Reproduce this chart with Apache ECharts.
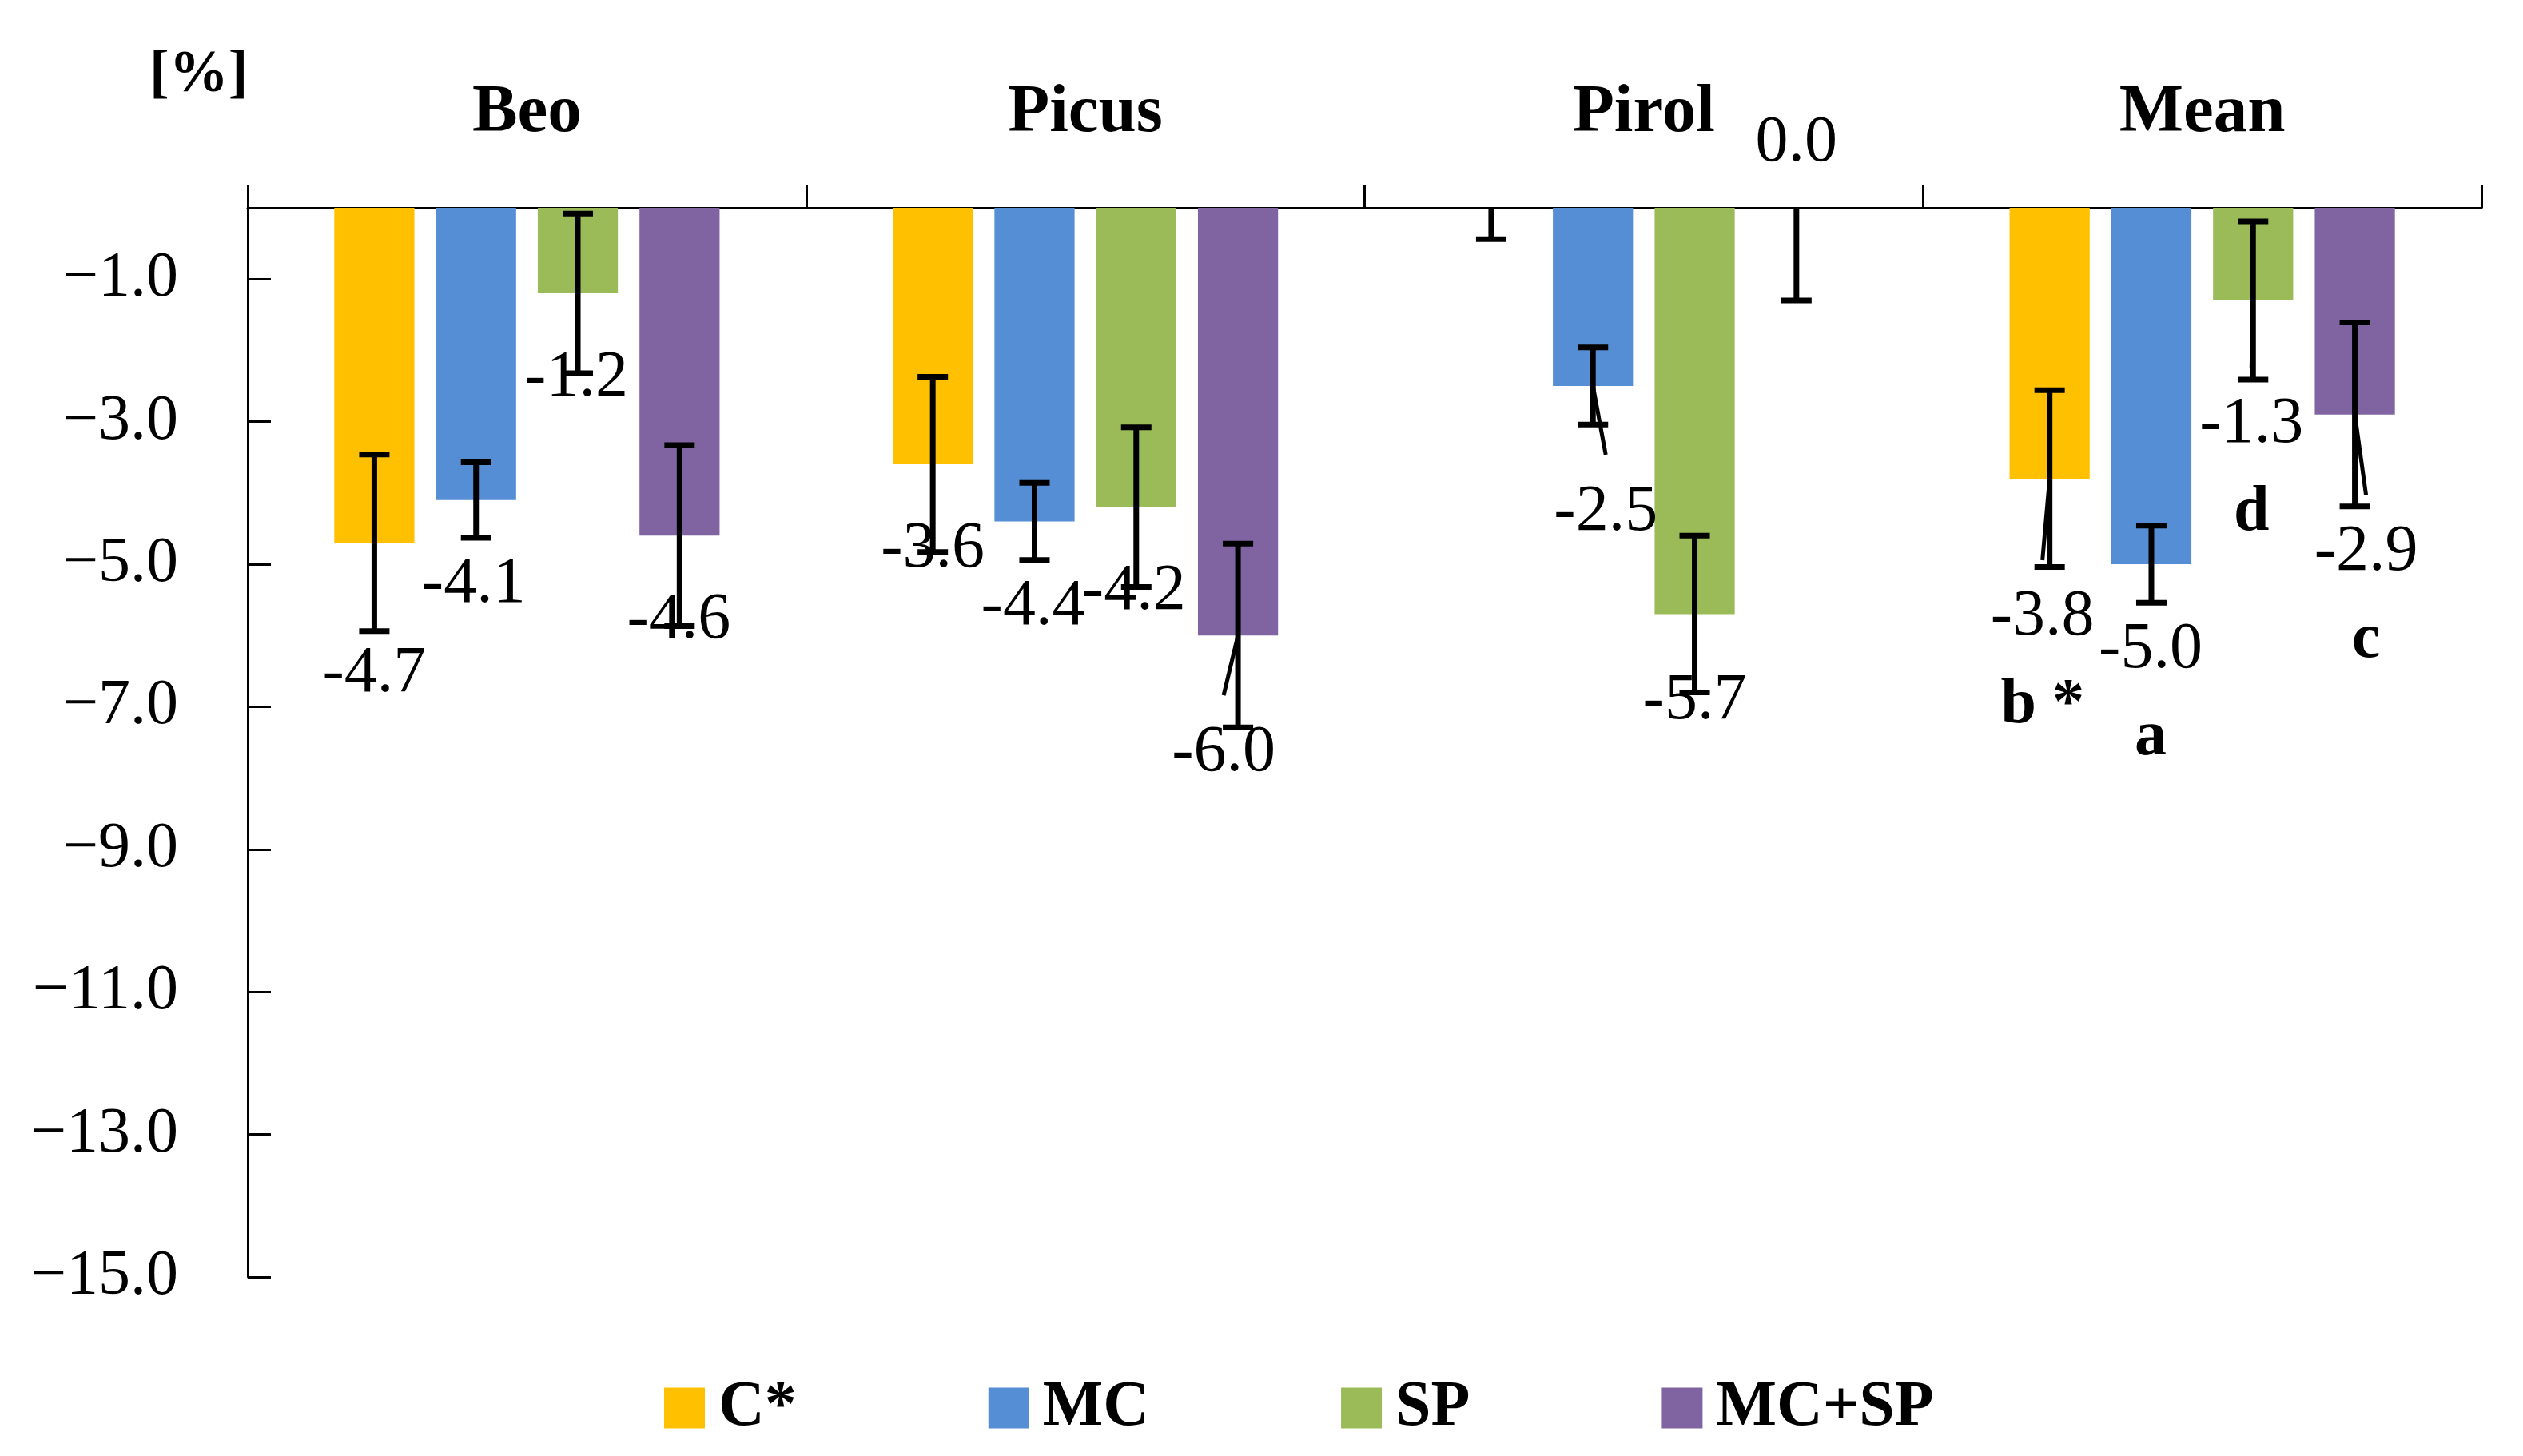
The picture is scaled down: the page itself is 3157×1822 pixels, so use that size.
<!DOCTYPE html>
<html><head><meta charset="utf-8">
<script src="https://cdn.jsdelivr.net/npm/echarts@6/dist/echarts.min.js"></script>
<style>html,body{margin:0;padding:0;background:#fff}#c{width:3157px;height:1822px}</style>
</head><body><div id="c"></div>
<script>
const categories = ['Beo', 'Picus', 'Pirol', 'Mean'];
const seriesNames = ['C*', 'MC', 'SP', 'MC+SP'];
const valuesC = [-4.7, -3.6, 0.0, -3.8];
const valuesMC = [-4.1, -4.4, -2.5, -5.0];
const valuesSP = [-1.2, -4.2, -5.7, -1.3];
const valuesMCSP = [-4.6, -6.0, 0.0, -2.9];
const errC = [1.24, 1.23, 0.44, 1.24];
const errMC = [0.53, 0.54, 0.54, 0.54];
const errSP = [1.12, 1.12, 1.10, 1.11];
const errMCSP = [1.27, 1.29, 1.30, 1.29];
const meanLetters = ['b *', 'a', 'd', 'c'];
const yTicks = [-15, -13, -11, -9, -7, -5, -3, -1];

// label nudges (px) relative to the default label place, per series per category
const nudgeDx = [[0, 0, 0, -9], [-3, -2, 16, -1], [-2, -3, 0, -2], [-1, -18, 0, 14]];
const nudgeDy = [[58, 0, 0, 68], [0, 1, 52, 1], [0, 0, 3, 50], [0, 41, 0, 67]];

const values = [valuesC, valuesMC, valuesSP, valuesMCSP];
const errs = [errC, errMC, errSP, errMCSP];
const colors = ['#FFC000', '#558ED5', '#9BBB59', '#8064A2'];
const FONT = 'Liberation Serif';
const BAR_CAT_GAP = 0.31, BAR_GAP = 0.27;

function labelText(s, c) {
  const v = values[s][c].toFixed(1);
  if (c === 3) return '{v|' + v + '}\n{l|' + meanLetters[s] + '}';
  return '{v|' + v + '}';
}

const labelRich = {
  v: { fontFamily: FONT, fontSize: 82, color: '#000', lineHeight: 110 },
  l: { fontFamily: FONT, fontSize: 80, fontWeight: 'bold', color: '#000', lineHeight: 110 }
};

const barSeries = values.map((arr, s) => ({
  type: 'bar',
  name: seriesNames[s],
  itemStyle: { color: colors[s] },
  barGap: (BAR_GAP * 100) + '%',
  barCategoryGap: (BAR_CAT_GAP * 100) + '%',
  label: {
    show: true,
    position: 'bottom',
    distance: 51,
    formatter: (p) => labelText(s, p.dataIndex),
    rich: labelRich
  },
  data: arr.map((v, c) => {
    const item = { value: v, label: { offset: [nudgeDx[s][c], nudgeDy[s][c]] } };
    if (v === 0 && s === 0) item.label = { show: false };
    if (v === 0 && s === 3) item.label = { position: 'top', distance: 26, offset: [0, 0] };
    return item;
  })
}));

const errData = [];
values.forEach((arr, s) => arr.forEach((v, c) => errData.push([c, s, v, errs[s][c]])));

const errSeries = {
  type: 'custom',
  name: 'err',
  z: 5,
  silent: true,
  renderItem: function (params, api) {
    const c = api.value(0), s = api.value(1), v = api.value(2), e = api.value(3);
    const band = api.size([1, 0])[0];
    const bw = band * (1 - BAR_CAT_GAP) / (4 + 3 * BAR_GAP);
    const total = 4 * bw + 3 * bw * BAR_GAP;
    const cx = api.coord([c, 0])[0] - total / 2 + bw / 2 + s * bw * (1 + BAR_GAP);
    const hi = Math.min(v + e, 0), lo = v - e;
    const yHi = api.coord([c, hi])[1], yLo = api.coord([c, lo])[1], yV = api.coord([c, v])[1];
    const half = 19;
    const st = { stroke: '#000', lineWidth: 7 };
    const children = [
      { type: 'line', shape: { x1: cx, y1: yHi, x2: cx, y2: yLo }, style: st },
      { type: 'line', shape: { x1: cx - half, y1: yLo, x2: cx + half, y2: yLo }, style: st }
    ];
    if (v + e <= 0) children.push({ type: 'line', shape: { x1: cx - half, y1: yHi, x2: cx + half, y2: yHi }, style: st });
    const dy = nudgeDy[s][c], dx = nudgeDx[s][c];
    if (dy > 30) children.push({ type: 'line', shape: { x1: cx, y1: yV, x2: cx + dx, y2: yV + 34 + dy }, style: { stroke: '#000', lineWidth: 5 } });
    return { type: 'group', children: children };
  },
  data: errData
};

const chart = echarts.init(document.getElementById('c'));
chart.setOption({
  backgroundColor: '#fff',
  animation: false,
  title: {
    text: '[%]', left: 182, top: 53,
    textStyle: { fontFamily: FONT, fontSize: 74, fontWeight: 'bold', color: '#000' }
  },
  legend: {
    data: seriesNames,
    left: 826, top: 1717,
    icon: 'rect', itemWidth: 51, itemHeight: 51, itemGap: 240,
    textStyle: { fontFamily: FONT, fontSize: 80, fontWeight: 'bold', color: '#000', padding: [0, 0, 0, 12] }
  },
  grid: { left: 310, top: 260, width: 2795, height: 1338, containLabel: false },
  xAxis: {
    type: 'category', position: 'top', data: categories, boundaryGap: true,
    axisLine: { show: true, lineStyle: { color: '#000', width: 3 } },
    axisTick: { show: true, length: 29, lineStyle: { color: '#000', width: 3 } },
    axisLabel: { margin: 75, fontFamily: FONT, fontSize: 85, fontWeight: 'bold', color: '#000' },
    splitLine: { show: false }
  },
  yAxis: {
    type: 'value', min: -15, max: 0, interval: 1,
    axisLine: { show: true, lineStyle: { color: '#000', width: 3 } },
    axisTick: { show: true, inside: true, length: 29, lineStyle: { color: '#000', width: 3 }, customValues: yTicks },
    axisLabel: {
      margin: 87, fontFamily: FONT, fontSize: 80, color: '#000', customValues: yTicks,
      formatter: (v) => (v < 0 ? '\u2212' : '') + Math.abs(v).toFixed(1)
    },
    splitLine: { show: false }
  },
  series: barSeries.concat([errSeries])
});
</script>
</body></html>
